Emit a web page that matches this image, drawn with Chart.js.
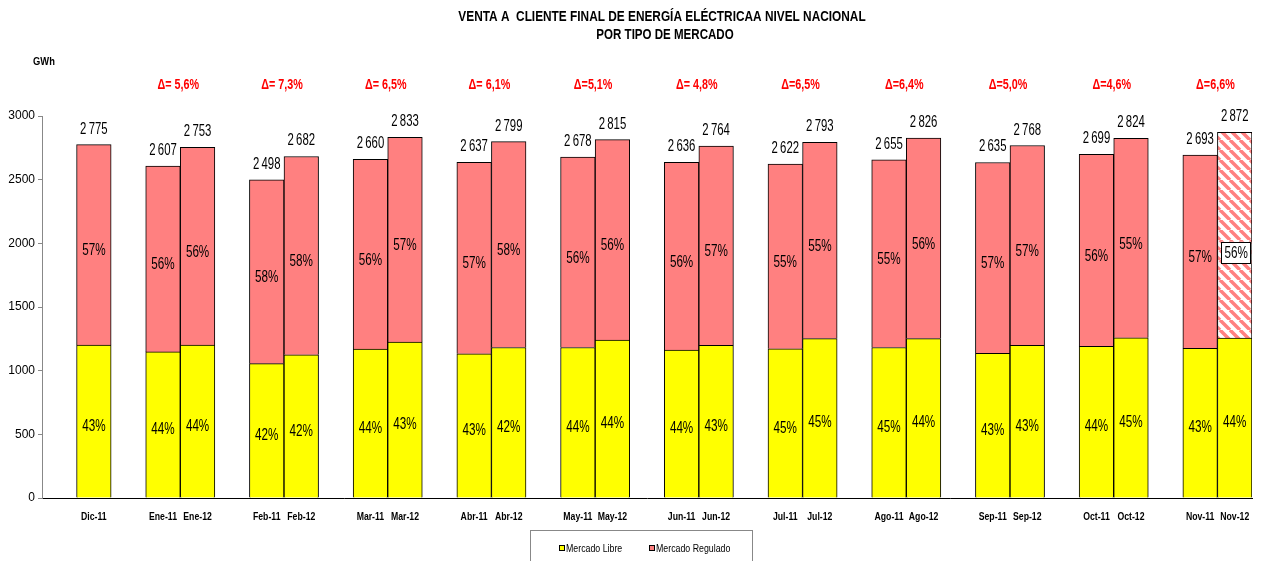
<!DOCTYPE html>
<html>
<head>
<meta charset="utf-8">
<script src="https://cdn.jsdelivr.net/npm/chart.js@4.4.1/dist/chart.umd.min.js"></script>
<style>
  body { margin: 0; background: #fff; }
</style>
</head>
<body>
<canvas id="chart" width="1264" height="561"></canvas>
<script>
// Meses (barras), en el orden del gráfico
const months = ["Dic-11", "Ene-11", "Ene-12", "Feb-11", "Feb-12", "Mar-11", "Mar-12", "Abr-11", "Abr-12",
  "May-11", "May-12", "Jun-11", "Jun-12", "Jul-11", "Jul-12", "Ago-11", "Ago-12",
  "Sep-11", "Sep-12", "Oct-11", "Oct-12", "Nov-11", "Nov-12"];

// GWh por tipo de mercado
const libre = [1201, 1147, 1200, 1055, 1125, 1170, 1225, 1132, 1182, 1182, 1240, 1162, 1198,
  1172, 1252, 1182, 1252, 1137, 1198, 1192, 1258, 1175, 1255];
const regulado = [1574, 1460, 1553, 1443, 1557, 1490, 1608, 1505, 1617, 1496, 1575, 1474, 1566,
  1450, 1541, 1473, 1574, 1498, 1570, 1507, 1566, 1518, 1617];

// Totales (etiquetas sobre las barras)
const totals = [2775, 2607, 2753, 2498, 2682, 2660, 2833, 2637, 2799, 2678, 2815, 2636, 2764,
  2622, 2793, 2655, 2826, 2635, 2768, 2699, 2824, 2693, 2872];

// Porcentajes
const pctLibre = [43, 44, 44, 42, 42, 44, 43, 43, 42, 44, 44, 44, 43, 45, 45, 45, 44, 43, 43, 44, 45, 43, 44];
const pctRegulado = [57, 56, 56, 58, 58, 56, 57, 57, 58, 56, 56, 56, 57, 55, 55, 55, 56, 57, 57, 56, 55, 57, 56];

// Variación anual por par de meses
const deltas = ["Δ= 5,6%", "Δ= 7,3%", "Δ= 6,5%", "Δ= 6,1%", "Δ=5,1%", "Δ= 4,8%",
  "Δ=6,5%", "Δ=6,4%", "Δ=5,0%", "Δ=4,6%", "Δ=6,6%"];

const yTicks = [0, 500, 1000, 1500, 2000, 2500, 3000];

const FONT = '"Liberation Sans", Arial, sans-serif';
const YELLOW = "#FFFF00";
const PINK = "#FF8080";

// Categorías con huecos: hueco, Dic-11, hueco, Ene-11, Ene-12, hueco, ...
const labels = [""];
const libreData = [null];
const reguladoData = [null];
const barIndex = [-1];
months.forEach((m, i) => {
  labels.push(m);
  libreData.push(libre[i]);
  reguladoData.push(regulado[i]);
  barIndex.push(i);
  if (i % 2 === 0 && i < months.length - 1) {
    labels.push("");
    libreData.push(null);
    reguladoData.push(null);
    barIndex.push(-1);
  }
});

// Patrón rayado para Nov-12
function makeHatch() {
  const c = document.createElement("canvas");
  c.width = 10;
  c.height = 10;
  const g = c.getContext("2d");
  g.fillStyle = "#fff";
  g.fillRect(0, 0, 10, 10);
  g.strokeStyle = PINK;
  g.lineWidth = 3.5;
  g.beginPath();
  [-10, 0, 10].forEach((o) => {
    g.moveTo(o, 0);
    g.lineTo(o + 10, 10);
  });
  g.stroke();
  return g.createPattern(c, "repeat");
}
const hatch = makeHatch();
const reguladoColors = barIndex.map((b) => (b === months.length - 1 ? hatch : PINK));

// texto "estrecho" (la fuente original es Arial Narrow)
function narrow(ctx, txt, x, y, k) {
  const w = ctx.measureText(txt).width;
  ctx.fillText(txt, x, y, w * (k || 0.88));
}

// Textos: título, etiquetas, leyenda
const labelsPlugin = {
  id: "labelsPlugin",
  afterDraw(chart) {
    const ctx = chart.ctx;
    const m0 = chart.getDatasetMeta(0);
    const m1 = chart.getDatasetMeta(1);
    const xs = chart.scales.x;
    ctx.save();
    ctx.fillStyle = "#000";
    ctx.textAlign = "center";

    // Título
    ctx.font = "bold 15px " + FONT;
    ctx.textBaseline = "middle";
    narrow(ctx, "VENTA A  CLIENTE FINAL DE ENERGÍA ELÉCTRICAA NIVEL NACIONAL", 662, 17, 0.79);
    narrow(ctx, "POR TIPO DE MERCADO", 665, 35, 0.77);

    // GWh
    ctx.font = "bold 11px " + FONT;
    narrow(ctx, "GWh", 44, 62, 0.85);

    const pairX = [];
    barIndex.forEach((b, k) => {
      if (b < 0) return;
      const e0 = m0.data[k];
      const e1 = m1.data[k];
      const x = e0.x;
      // etiqueta del eje
      ctx.font = "bold 10px " + FONT;
      ctx.textBaseline = "middle";
      ctx.fillStyle = "#000";
      narrow(ctx, months[b], xs.getPixelForTick(k), 517, 0.87);
      // porcentajes
      ctx.font = "16px " + FONT;
      narrow(ctx, pctLibre[b] + "%", x, (e0.y + e0.base) / 2 + 5, 0.73);
      if (b === months.length - 1) {
        // etiqueta con recuadro (Nov-12, estimado)
        const ry = (e1.y + e1.base) / 2 + 17;
        const bx = x + 1.5;
        ctx.fillStyle = "#fff";
        ctx.fillRect(bx - 15, ry - 10.5, 30, 22);
        ctx.strokeStyle = "#000";
        ctx.lineWidth = 1;
        ctx.strokeRect(Math.round(bx - 15) + 0.5, Math.round(ry - 10.5) + 0.5, 29, 21);
        ctx.fillStyle = "#000";
        narrow(ctx, pctRegulado[b] + "%", bx, ry + 1, 0.73);
      } else {
        narrow(ctx, pctRegulado[b] + "%", x, (e1.y + e1.base) / 2 + 6, 0.73);
      }
      // total
      ctx.textBaseline = "alphabetic";
      const t = String(totals[b]);
      narrow(ctx, t.slice(0, 1) + "\u2009" + t.slice(1), x, e1.y - 11, 0.71);
      if (b % 2 === 0 && b > 0) pairX.push((m0.data[k - 1].x + x) / 2);
    });

    // Deltas
    ctx.font = "bold 14px " + FONT;
    ctx.fillStyle = "#FF0000";
    ctx.textBaseline = "middle";
    pairX.forEach((x, i) => narrow(ctx, deltas[i], x - 2, 85, 0.77));

    // Leyenda
    ctx.strokeStyle = "#888";
    ctx.lineWidth = 1;
    ctx.strokeRect(530.5, 530.5, 222, 40);
    ctx.font = "11px " + FONT;
    ctx.textAlign = "left";
    [[YELLOW, "Mercado Libre", 559], [PINK, "Mercado Regulado", 649]].forEach(([c, txt, x]) => {
      ctx.fillStyle = c;
      ctx.fillRect(x, 545, 6, 6);
      ctx.strokeStyle = "#000";
      ctx.strokeRect(x + 0.5, 545.5, 5, 5);
      ctx.fillStyle = "#000";
      narrow(ctx, txt, x + 7, 548.5, 0.8);
    });
    ctx.restore();
  },
};

const chart = new Chart(document.getElementById("chart").getContext("2d"), {
  type: "bar",
  data: {
    labels: labels,
    datasets: [
      {
        label: "Mercado Libre",
        data: libreData,
        backgroundColor: YELLOW,
        borderColor: "#000",
        borderWidth: 1,
      },
      {
        label: "Mercado Regulado",
        data: reguladoData,
        backgroundColor: reguladoColors,
        borderColor: "#000",
        borderWidth: 1,
      },
    ],
  },
  options: {
    responsive: false,
    animation: false,
    devicePixelRatio: 1,
    barPercentage: 1,
    categoryPercentage: 1,
    layout: { padding: { top: 116, right: 12, left: 0, bottom: 0 } },
    plugins: {
      legend: { display: false },
      title: { display: false },
      tooltip: { enabled: false },
    },
    scales: {
      x: {
        stacked: true,
        grid: { display: false },
        border: { color: "#000" },
        ticks: { display: false },
        afterFit(scale) {
          scale.height = 63;
        },
      },
      y: {
        stacked: true,
        min: 0,
        max: 3000,
        afterBuildTicks(scale) {
          scale.ticks = yTicks.map((v) => ({ value: v }));
        },
        grid: { drawOnChartArea: false, drawTicks: true, tickLength: 4, color: "#888" },
        border: { color: "#888" },
        ticks: {
          padding: 3,
          color: "#000",
          font: { family: FONT, size: 12 },
          callback: (v) => String(v),
        },
        afterFit(scale) {
          scale.width = 42;
        },
      },
    },
  },
  plugins: [labelsPlugin],
});
</script>
</body>
</html>
